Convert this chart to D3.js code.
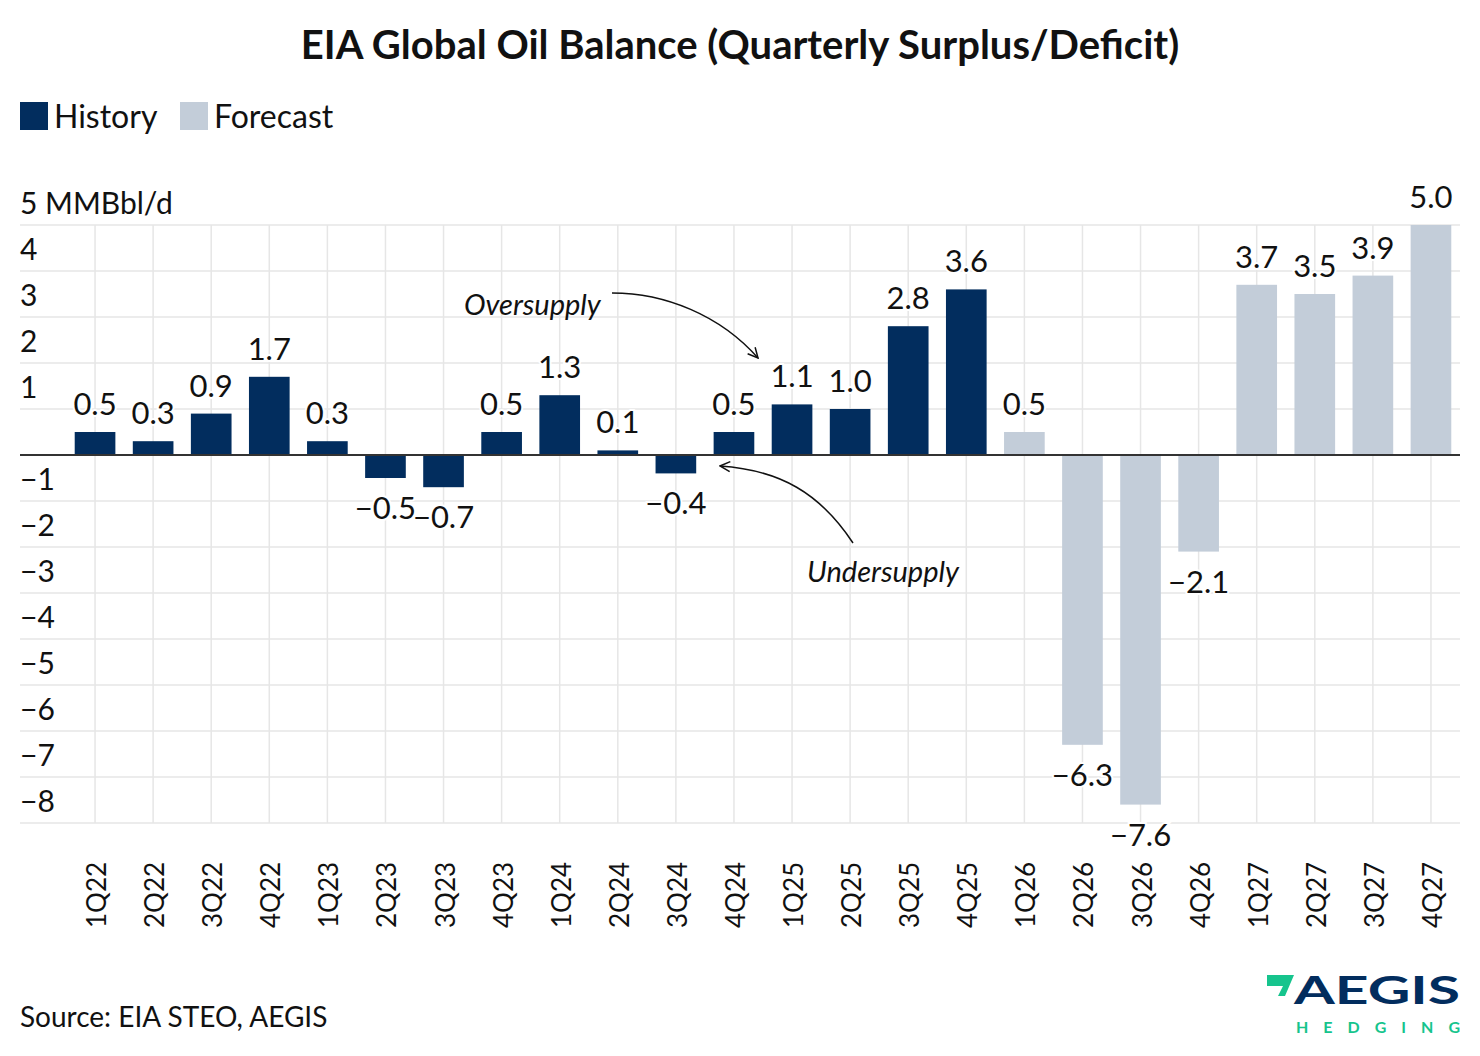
<!DOCTYPE html>
<html>
<head>
<meta charset="utf-8">
<script src="https://cdn.jsdelivr.net/npm/d3@7"></script>
<style>
  body { margin: 0; background: #fff; }
  text { font-family: Lato, "Open Sans", sans-serif; }
</style>
</head>
<body>
<div id="chart"></div>
<script>
// quarterly global oil balance, MMBbl/d
var quarters = ['1Q22','2Q22','3Q22','4Q22','1Q23','2Q23','3Q23','4Q23',
                '1Q24','2Q24','3Q24','4Q24','1Q25','2Q25','3Q25','4Q25',
                '1Q26','2Q26','3Q26','4Q26','1Q27','2Q27','3Q27','4Q27'];
var balance = [0.5, 0.3, 0.9, 1.7, 0.3, -0.5, -0.7, 0.5,
               1.3, 0.1, -0.4, 0.5, 1.1, 1.0, 2.8, 3.6,
               0.5, -6.3, -7.6, -2.1, 3.7, 3.5, 3.9, 5.0];
var firstForecast = '1Q26';
var yTicks = [4, 3, 2, 1, -1, -2, -3, -4, -5, -6, -7, -8];

var width = 1480, height = 1056;
var navy = '#022d5e', grey = '#c3cdd9';

var svg = d3.select('#chart').append('svg')
    .attr('width', width)
    .attr('height', height);

var data = quarters.map(function(q, i) {
    return {q: q, v: balance[i], forecast: i >= quarters.indexOf(firstForecast)};
});

var x = d3.scaleBand()
    .domain(quarters)
    .range([66, 1460])
    .paddingInner(0.3)
    .paddingOuter(0.15);
var y = d3.scaleLinear()
    .domain([-8, 5])
    .range([823, 225]);

// title
svg.append('text')
    .attr('x', 740).attr('y', 59)
    .attr('text-anchor', 'middle')
    .attr('font-size', 40).attr('font-weight', 700)
    .attr('fill', '#111')
    .text('EIA Global Oil Balance (Quarterly Surplus/Deficit)');

// legend
var legend = [{label: 'History', color: navy, x: 20}, {label: 'Forecast', color: grey, x: 180}];
legend.forEach(function(l) {
    svg.append('rect').attr('x', l.x).attr('y', 102).attr('width', 28).attr('height', 28).attr('fill', l.color);
    svg.append('text').attr('x', l.x + 34).attr('y', 128)
        .attr('font-size', 32).attr('fill', '#111').text(l.label);
});

// grid
var grid = svg.append('g');
grid.selectAll('.vg').data(quarters).enter().append('line')
    .attr('x1', d => x(d) + x.bandwidth() / 2)
    .attr('x2', d => x(d) + x.bandwidth() / 2)
    .attr('y1', y(5)).attr('y2', y(-8))
    .attr('stroke', '#e6e6e6').attr('stroke-width', 1.5);
grid.selectAll('.hg').data(d3.range(-8, 6)).enter().append('line')
    .attr('x1', 20).attr('x2', 1460)
    .attr('y1', d => y(d)).attr('y2', d => y(d))
    .attr('stroke', '#e6e6e6').attr('stroke-width', 1.5);

// y labels sit above their grid line
svg.append('text').attr('x', 20).attr('y', y(5) - 11)
    .attr('font-size', 30).attr('fill', '#111').text('5 MMBbl/d');
svg.selectAll('.yl').data(yTicks).enter().append('text')
    .attr('x', 20).attr('y', d => y(d) - 11)
    .attr('font-size', 30).attr('fill', '#111')
    .text(d => d < 0 ? '\u2212' + Math.abs(d) : d);

// bars
svg.selectAll('.bar').data(data).enter().append('rect')
    .attr('x', d => x(d.q))
    .attr('width', x.bandwidth())
    .attr('y', d => y(Math.max(0, d.v)))
    .attr('height', d => Math.abs(y(d.v) - y(0)))
    .attr('fill', d => d.forecast ? grey : navy);

// zero line
svg.append('line').attr('x1', 20).attr('x2', 1460)
    .attr('y1', y(0)).attr('y2', y(0))
    .attr('stroke', '#333').attr('stroke-width', 2);

// value labels
svg.selectAll('.val').data(data).enter().append('text')
    .attr('x', d => x(d.q) + x.bandwidth() / 2)
    .attr('y', d => d.v >= 0 ? y(d.v) - 17 : y(d.v) + 41)
    .attr('text-anchor', 'middle')
    .attr('font-size', 31).attr('fill', '#111')
    .attr('stroke', '#fff').attr('stroke-width', 4).attr('paint-order', 'stroke')
    .text(d => (d.v < 0 ? '\u2212' : '') + Math.abs(d.v).toFixed(1));

// x labels, rotated
svg.selectAll('.xl').data(quarters).enter().append('text')
    .attr('transform', d => 'translate(' + (x(d) + x.bandwidth() / 2 + 11) + ',928) rotate(-90)')
    .attr('font-family', '"Liberation Sans", Arial, sans-serif')
    .attr('font-size', 26).attr('fill', '#111')
    .text(d => d);

// annotations
svg.append('defs').append('marker')
    .attr('id', 'arr').attr('viewBox', '0 0 12 12')
    .attr('refX', 11).attr('refY', 6)
    .attr('markerWidth', 12).attr('markerHeight', 12)
    .attr('markerUnits', 'userSpaceOnUse')
    .attr('orient', 'auto')
    .append('path').attr('d', 'M1,1 L11,6 L1,11')
    .attr('fill', 'none').attr('stroke', '#111').attr('stroke-width', 1.5);

svg.append('text').attr('x', 464).attr('y', 315)
    .attr('font-size', 29).attr('font-style', 'italic').attr('fill', '#111')
    .text('Oversupply');
svg.append('path').attr('d', 'M612,293 C665,293 720,315 758,358')
    .attr('fill', 'none').attr('stroke', '#111').attr('stroke-width', 1.5)
    .attr('marker-end', 'url(#arr)');

svg.append('text').attr('x', 807).attr('y', 582)
    .attr('font-size', 29).attr('font-style', 'italic').attr('fill', '#111')
    .text('Undersupply');
svg.append('path').attr('d', 'M853,543 C820,493 780,470 720,466')
    .attr('fill', 'none').attr('stroke', '#111').attr('stroke-width', 1.5)
    .attr('marker-end', 'url(#arr)');

// source
svg.append('text').attr('x', 20).attr('y', 1027)
    .attr('font-size', 28).attr('fill', '#111')
    .text('Source: EIA STEO, AEGIS');

// logo
var logo = svg.append('g');
logo.append('polygon')
    .attr('points', '1267,975 1294,975 1285,996 1278,996 1283,986 1267,986')
    .attr('fill', '#16c48d');
logo.append('text').attr('x', 1294).attr('y', 1004)
    .attr('font-family', '"DejaVu Sans", sans-serif')
    .attr('font-size', 39).attr('font-weight', 700).attr('fill', navy)
    .attr('textLength', 166).attr('lengthAdjust', 'spacingAndGlyphs')
    .text('AEGIS');
logo.append('text').attr('x', 1296).attr('y', 1033)
    .attr('font-family', '"DejaVu Sans", sans-serif')
    .attr('font-size', 16).attr('font-weight', 700).attr('fill', '#16c48d')
    .attr('textLength', 164).attr('lengthAdjust', 'spacing')
    .text('HEDGING');
</script>
</body>
</html>
